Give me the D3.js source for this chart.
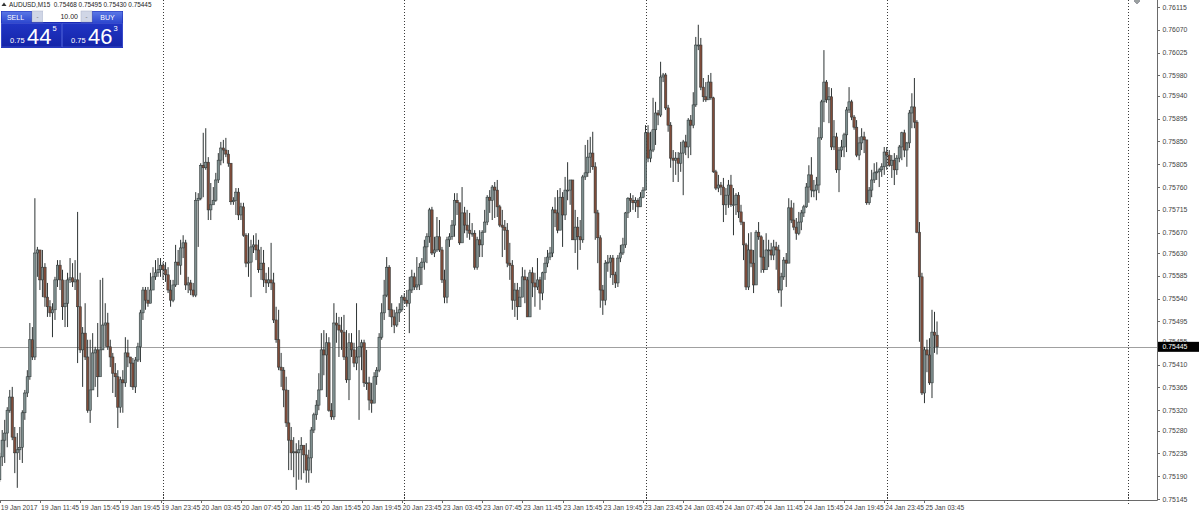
<!DOCTYPE html>
<html><head><meta charset="utf-8">
<script src="https://cdn.jsdelivr.net/npm/d3@7"></script>
<style>
body{margin:0;background:#fff;overflow:hidden}
svg{display:block}
text{font-family:"Liberation Sans",Arial,sans-serif}
</style>
</head><body>
<svg id="c" width="1200" height="515"></svg>
<script>
// ---- data (AUDUSD M15) ----
const symbol = "AUDUSD,M15";
const firstBarTime = "2017-01-19 07:45";
const lotSize = "10.00";
const bidPrice = 0.75445;
const askPrice = 0.75463;

const open = [
0.75183,0.75228,0.75261,0.75275,0.75320,0.75346,0.75267,0.75236,0.75242,0.75247,
0.75315,0.75354,0.75386,0.75459,0.75425,0.75630,0.75636,0.75577,0.75602,0.75543,
0.75524,0.75512,0.75518,0.75577,0.75606,0.75577,0.75524,0.75531,0.75577,0.75581,
0.75573,0.75577,0.75524,0.75439,0.75472,0.75425,0.75320,0.75360,0.75433,0.75439,
0.75386,0.75439,0.75488,0.75492,0.75445,0.75425,0.75393,0.75386,0.75326,0.75380,
0.75374,0.75433,0.75425,0.75413,0.75366,0.75419,0.75445,0.75512,0.75557,0.75537,
0.75531,0.75557,0.75583,0.75591,
0.75597,0.75606,0.75597,0.75587,0.75557,0.75537,0.75567,0.75612,0.75606,0.75640,
0.75650,0.75567,0.75571,0.75557,0.75547,0.75734,0.75738,0.75803,0.75798,0.75809,
0.75715,0.75725,0.75734,0.75774,0.75813,0.75837,0.75833,0.75825,0.75807,0.75731,
0.75734,0.75750,0.75705,0.75721,0.75665,0.75610,0.75612,0.75642,0.75646,0.75636,
0.75597,0.75610,0.75577,0.75571,0.75577,0.75571,0.75498,0.75459,0.75405,0.75399,
0.75360,0.75295,0.75261,0.75236,0.75238,0.75236,0.75242,0.75251,0.75232,0.75202,
0.75226,0.75281,0.75311,0.75330,
0.75360,0.75439,0.75429,0.75453,0.75320,0.75307,0.75492,0.75488,0.75478,0.75474,
0.75425,0.75380,0.75453,0.75439,0.75413,0.75425,0.75445,0.75453,0.75374,0.75374,
0.75340,0.75334,0.75386,0.75399,0.75464,0.75512,0.75547,0.75602,0.75518,0.75504,
0.75488,0.75512,0.75518,0.75543,0.75537,0.75531,0.75557,0.75583,0.75563,0.75567,
0.75602,0.75612,0.75642,0.75662,0.75715,0.75630,0.75636,0.75662,0.75636,0.75577,
0.75543,0.75656,0.75662,0.75685,0.75734,0.75729,
0.75650,0.75709,0.75685,0.75675,0.75669,0.75669,0.75602,0.75656,0.75646,0.75671,
0.75691,0.75740,0.75734,0.75760,0.75754,0.75721,0.75685,0.75681,0.75675,0.75610,
0.75606,0.75537,0.75557,0.75524,0.75543,0.75583,0.75577,0.75504,0.75591,0.75571,
0.75563,0.75577,0.75551,0.75591,0.75610,0.75622,0.75630,0.75715,0.75709,0.75675,
0.75740,0.75705,0.75754,0.75754,0.75774,0.75656,0.75681,0.75662,0.75656,0.75780,
0.75788,0.75819,0.75827,0.75800,0.75709,0.75660,
0.75557,0.75537,0.75610,0.75612,0.75620,0.75587,0.75571,0.75620,0.75630,0.75646,
0.75709,0.75738,0.75734,0.75729,0.75734,0.75721,0.75740,0.75754,0.75867,0.75817,
0.75833,0.75873,0.75906,0.75902,0.75977,0.75981,0.75916,0.75882,0.75817,0.75813,
0.75817,0.75807,0.75827,0.75849,0.75839,0.75892,0.75882,0.75922,0.76040,0.76040,
0.75957,0.75938,0.75932,0.75967,0.75936,0.75790,0.75758,0.75764,0.75760,0.75725,
0.75744,0.75764,0.75725,0.75725,0.75744,0.75711,
0.75691,0.75646,0.75563,0.75636,0.75610,0.75567,0.75671,0.75662,0.75622,0.75597,
0.75636,0.75636,0.75626,0.75642,0.75636,0.75557,0.75583,0.75616,0.75610,0.75719,
0.75695,0.75681,0.75669,0.75691,0.75709,0.75721,0.75760,0.75784,0.75754,0.75754,
0.75764,0.75857,0.75928,0.75967,0.75932,0.75938,0.75839,0.75859,0.75794,0.75833,
0.75839,0.75863,0.75912,0.75928,0.75898,0.75878,0.75823,0.75847,0.75859,0.75853,
0.75729,0.75754,0.75774,0.75788,0.75790,0.75794,0.75800,0.75829,0.75823,0.75803,
0.75813,0.75794,0.75817,0.75839,0.75867,0.75833,0.75847,0.75906,0.75918,0.75888,
0.75671,0.75583,0.75354,0.75439,0.75429,0.75374,0.75474,0.75468
];
const high = [
0.75236,0.75281,0.75301,0.75326,0.75360,0.75366,0.75287,0.75275,0.75287,0.75320,
0.75360,0.75399,0.75492,0.75484,0.75738,0.75642,0.75630,0.75636,0.75610,0.75571,
0.75537,0.75531,0.75583,0.75616,0.75616,0.75597,0.75577,0.75591,0.75620,0.75610,
0.75616,0.75711,0.75591,0.75484,0.75531,0.75459,0.75459,0.75472,0.75445,0.75492,
0.75577,0.75581,0.75531,0.75512,0.75459,0.75433,0.75413,0.75399,0.75386,0.75399,
0.75464,0.75459,0.75425,0.75423,0.75425,0.75453,0.75518,0.75563,0.75563,0.75563,
0.75591,0.75602,0.75616,0.75620,
0.75620,0.75612,0.75612,0.75602,0.75577,0.75577,0.75646,0.75636,0.75656,0.75665,
0.75656,0.75583,0.75577,0.75571,0.75750,0.75748,0.75807,0.75867,0.75876,0.75819,
0.75768,0.75760,0.75788,0.75827,0.75849,0.75853,0.75857,0.75833,0.75807,0.75740,
0.75758,0.75758,0.75729,0.75729,0.75669,0.75669,0.75656,0.75665,0.75669,0.75656,
0.75642,0.75636,0.75591,0.75602,0.75650,0.75591,0.75524,0.75518,0.75433,0.75405,
0.75386,0.75360,0.75287,0.75267,0.75255,0.75261,0.75267,0.75242,0.75255,0.75242,
0.75287,0.75315,0.75340,0.75393,
0.75472,0.75478,0.75472,0.75464,0.75334,0.75531,0.75512,0.75504,0.75504,0.75508,
0.75478,0.75472,0.75472,0.75453,0.75531,0.75478,0.75459,0.75459,0.75439,0.75386,
0.75374,0.75395,0.75405,0.75472,0.75531,0.75577,0.75622,0.75606,0.75531,0.75518,
0.75524,0.75531,0.75547,0.75551,0.75557,0.75583,0.75597,0.75591,0.75622,0.75610,
0.75620,0.75656,0.75669,0.75719,0.75721,0.75662,0.75701,0.75695,0.75642,0.75597,
0.75662,0.75669,0.75695,0.75748,0.75748,0.75715,
0.75760,0.75721,0.75715,0.75709,0.75689,0.75675,0.75662,0.75675,0.75675,0.75715,
0.75744,0.75754,0.75764,0.75770,0.75774,0.75725,0.75715,0.75695,0.75689,0.75650,
0.75616,0.75571,0.75571,0.75563,0.75602,0.75597,0.75583,0.75597,0.75602,0.75591,
0.75620,0.75583,0.75593,0.75622,0.75636,0.75642,0.75721,0.75740,0.75754,0.75758,
0.75750,0.75780,0.75809,0.75774,0.75740,0.75715,0.75701,0.75695,0.75784,0.75843,
0.75853,0.75859,0.75869,0.75809,0.75715,0.75665,
0.75567,0.75616,0.75626,0.75626,0.75626,0.75593,0.75626,0.75646,0.75660,0.75711,
0.75740,0.75748,0.75744,0.75740,0.75738,0.75750,0.75760,0.75882,0.75882,0.75869,
0.75936,0.75928,0.75912,0.76007,0.75985,0.75985,0.75922,0.75888,0.75833,0.75829,
0.75829,0.75849,0.75853,0.75863,0.75896,0.75902,0.75947,0.76056,0.76080,0.76054,
0.75975,0.75967,0.75981,0.75985,0.75938,0.75794,0.75784,0.75770,0.75778,0.75758,
0.75774,0.75784,0.75758,0.75748,0.75750,0.75725,
0.75679,0.75650,0.75669,0.75671,0.75636,0.75675,0.75691,0.75665,0.75656,0.75669,
0.75656,0.75650,0.75656,0.75652,0.75646,0.75591,0.75622,0.75630,0.75738,0.75734,
0.75729,0.75699,0.75711,0.75715,0.75725,0.75768,0.75803,0.75819,0.75774,0.75780,
0.75878,0.75932,0.76030,0.75971,0.75957,0.75955,0.75892,0.75867,0.75839,0.75853,
0.75867,0.75918,0.75957,0.75932,0.75902,0.75892,0.75859,0.75876,0.75869,0.75843,
0.75760,0.75794,0.75807,0.75809,0.75798,0.75807,0.75839,0.75839,0.75833,0.75823,
0.75827,0.75823,0.75843,0.75869,0.75873,0.75849,0.75912,0.75945,0.75975,0.75892,
0.75691,0.75591,0.75445,0.75459,0.75462,0.75518,0.75514,0.75495
];
const low = [
0.75179,0.75210,0.75216,0.75247,0.75315,0.75261,0.75196,0.75167,0.75222,0.75216,
0.75301,0.75346,0.75380,0.75419,0.75419,0.75583,0.75557,0.75543,0.75524,0.75504,
0.75504,0.75464,0.75498,0.75563,0.75557,0.75498,0.75484,0.75484,0.75571,0.75563,
0.75557,0.75413,0.75433,0.75366,0.75419,0.75315,0.75295,0.75360,0.75366,0.75346,
0.75433,0.75439,0.75445,0.75439,0.75405,0.75354,0.75346,0.75285,0.75315,0.75315,
0.75366,0.75405,0.75366,0.75360,0.75354,0.75415,0.75415,0.75498,0.75518,0.75524,
0.75531,0.75571,0.75577,0.75583,
0.75583,0.75577,0.75573,0.75551,0.75524,0.75533,0.75563,0.75567,0.75587,0.75620,
0.75557,0.75551,0.75547,0.75543,0.75543,0.75642,0.75734,0.75740,0.75794,0.75695,
0.75695,0.75729,0.75731,0.75768,0.75803,0.75807,0.75819,0.75800,0.75725,0.75725,
0.75705,0.75695,0.75695,0.75662,0.75602,0.75583,0.75543,0.75630,0.75616,0.75591,
0.75577,0.75563,0.75551,0.75563,0.75557,0.75492,0.75453,0.75399,0.75366,0.75326,
0.75287,0.75202,0.75202,0.75188,0.75163,0.75183,0.75183,0.75196,0.75177,0.75177,
0.75196,0.75275,0.75301,0.75320,
0.75374,0.75389,0.75346,0.75317,0.75301,0.75301,0.75453,0.75425,0.75439,0.75419,
0.75374,0.75340,0.75425,0.75405,0.75399,0.75301,0.75399,0.75366,0.75360,0.75320,
0.75315,0.75340,0.75370,0.75395,0.75459,0.75498,0.75543,0.75504,0.75484,0.75472,
0.75484,0.75494,0.75514,0.75531,0.75524,0.75472,0.75551,0.75557,0.75557,0.75557,
0.75567,0.75597,0.75610,0.75650,0.75626,0.75622,0.75632,0.75632,0.75571,0.75531,
0.75531,0.75642,0.75656,0.75662,0.75705,0.75646,
0.75701,0.75669,0.75660,0.75656,0.75662,0.75597,0.75597,0.75622,0.75622,0.75671,
0.75685,0.75709,0.75695,0.75699,0.75701,0.75681,0.75622,0.75636,0.75602,0.75577,
0.75518,0.75504,0.75498,0.75524,0.75543,0.75531,0.75504,0.75504,0.75543,0.75524,
0.75557,0.75518,0.75537,0.75577,0.75602,0.75616,0.75622,0.75681,0.75669,0.75695,
0.75642,0.75695,0.75734,0.75725,0.75656,0.75630,0.75597,0.75636,0.75650,0.75774,
0.75780,0.75788,0.75794,0.75656,0.75610,0.75522,
0.75508,0.75527,0.75593,0.75581,0.75567,0.75561,0.75563,0.75612,0.75626,0.75640,
0.75699,0.75711,0.75715,0.75711,0.75699,0.75721,0.75738,0.75754,0.75809,0.75809,
0.75829,0.75843,0.75882,0.75898,0.75967,0.75912,0.75869,0.75798,0.75770,0.75784,
0.75770,0.75790,0.75744,0.75823,0.75817,0.75823,0.75876,0.75918,0.76030,0.75951,
0.75928,0.75928,0.75938,0.75932,0.75788,0.75754,0.75750,0.75744,0.75691,0.75705,
0.75719,0.75721,0.75665,0.75705,0.75699,0.75685,
0.75616,0.75557,0.75557,0.75602,0.75551,0.75610,0.75656,0.75591,0.75591,0.75610,
0.75602,0.75616,0.75616,0.75597,0.75551,0.75524,0.75577,0.75563,0.75612,0.75689,
0.75675,0.75656,0.75665,0.75675,0.75701,0.75719,0.75729,0.75740,0.75740,0.75734,
0.75748,0.75853,0.75888,0.75926,0.75886,0.75833,0.75833,0.75788,0.75750,0.75819,
0.75819,0.75829,0.75906,0.75892,0.75873,0.75819,0.75813,0.75833,0.75827,0.75725,
0.75725,0.75740,0.75768,0.75774,0.75760,0.75780,0.75784,0.75794,0.75800,0.75778,
0.75764,0.75784,0.75809,0.75813,0.75819,0.75800,0.75837,0.75876,0.75876,0.75669,
0.75455,0.75350,0.75334,0.75395,0.75370,0.75344,0.75433,0.75430
];
const close = [
0.75228,0.75261,0.75275,0.75320,0.75346,0.75267,0.75236,0.75242,0.75247,0.75315,
0.75354,0.75386,0.75459,0.75425,0.75630,0.75636,0.75577,0.75602,0.75543,0.75524,
0.75512,0.75518,0.75577,0.75606,0.75577,0.75524,0.75531,0.75577,0.75581,0.75573,
0.75577,0.75524,0.75439,0.75472,0.75425,0.75320,0.75360,0.75433,0.75439,0.75386,
0.75439,0.75488,0.75492,0.75445,0.75425,0.75393,0.75386,0.75326,0.75380,0.75374,
0.75433,0.75425,0.75413,0.75366,0.75419,0.75445,0.75512,0.75557,0.75537,0.75531,
0.75557,0.75583,0.75591,0.75597,
0.75606,0.75597,0.75587,0.75557,0.75537,0.75567,0.75612,0.75606,0.75640,0.75650,
0.75567,0.75571,0.75557,0.75547,0.75734,0.75738,0.75803,0.75798,0.75809,0.75715,
0.75725,0.75734,0.75774,0.75813,0.75837,0.75833,0.75825,0.75807,0.75731,0.75734,
0.75750,0.75705,0.75721,0.75665,0.75610,0.75612,0.75642,0.75646,0.75636,0.75597,
0.75610,0.75577,0.75571,0.75577,0.75571,0.75498,0.75459,0.75405,0.75399,0.75360,
0.75295,0.75261,0.75236,0.75238,0.75236,0.75242,0.75251,0.75232,0.75202,0.75226,
0.75281,0.75311,0.75330,0.75360,
0.75439,0.75429,0.75453,0.75320,0.75307,0.75492,0.75488,0.75478,0.75474,0.75425,
0.75380,0.75453,0.75439,0.75413,0.75425,0.75445,0.75453,0.75374,0.75374,0.75340,
0.75334,0.75386,0.75399,0.75464,0.75512,0.75547,0.75602,0.75518,0.75504,0.75488,
0.75512,0.75518,0.75543,0.75537,0.75531,0.75557,0.75583,0.75563,0.75567,0.75602,
0.75612,0.75642,0.75662,0.75715,0.75630,0.75636,0.75662,0.75636,0.75577,0.75543,
0.75656,0.75662,0.75685,0.75734,0.75729,0.75650,
0.75709,0.75685,0.75675,0.75669,0.75669,0.75602,0.75656,0.75646,0.75671,0.75691,
0.75740,0.75734,0.75760,0.75754,0.75721,0.75685,0.75681,0.75675,0.75610,0.75606,
0.75537,0.75557,0.75524,0.75543,0.75583,0.75577,0.75504,0.75591,0.75571,0.75563,
0.75577,0.75551,0.75591,0.75610,0.75622,0.75630,0.75715,0.75709,0.75675,0.75740,
0.75705,0.75754,0.75754,0.75774,0.75656,0.75681,0.75662,0.75656,0.75780,0.75788,
0.75819,0.75827,0.75800,0.75709,0.75660,0.75557,
0.75537,0.75610,0.75612,0.75620,0.75587,0.75571,0.75620,0.75630,0.75646,0.75709,
0.75738,0.75734,0.75729,0.75734,0.75721,0.75740,0.75754,0.75867,0.75817,0.75833,
0.75873,0.75906,0.75902,0.75977,0.75981,0.75916,0.75882,0.75817,0.75813,0.75817,
0.75807,0.75827,0.75849,0.75839,0.75892,0.75882,0.75922,0.76040,0.76040,0.75957,
0.75938,0.75932,0.75967,0.75936,0.75790,0.75758,0.75764,0.75760,0.75725,0.75744,
0.75764,0.75725,0.75725,0.75744,0.75711,0.75691,
0.75646,0.75563,0.75636,0.75610,0.75567,0.75671,0.75662,0.75622,0.75597,0.75636,
0.75636,0.75626,0.75642,0.75636,0.75557,0.75583,0.75616,0.75610,0.75719,0.75695,
0.75681,0.75669,0.75691,0.75709,0.75721,0.75760,0.75784,0.75754,0.75754,0.75764,
0.75857,0.75928,0.75967,0.75932,0.75938,0.75839,0.75859,0.75794,0.75833,0.75839,
0.75863,0.75912,0.75928,0.75898,0.75878,0.75823,0.75847,0.75859,0.75853,0.75729,
0.75754,0.75774,0.75788,0.75790,0.75794,0.75800,0.75829,0.75823,0.75803,0.75813,
0.75794,0.75817,0.75839,0.75867,0.75833,0.75847,0.75906,0.75918,0.75888,0.75671,
0.75583,0.75354,0.75439,0.75429,0.75374,0.75474,0.75468,0.75445
];

const priceTicks = [0.76115,0.76070,0.76025,0.75980,0.75940,0.75895,0.75850,0.75805,
  0.75760,0.75715,0.75670,0.75630,0.75585,0.75540,0.75495,0.75455,0.75410,0.75365,
  0.75320,0.75280,0.75235,0.75190,0.75145];
const timeTickLabels = ["19 Jan 2017","19 Jan 11:45","19 Jan 15:45","19 Jan 19:45","19 Jan 23:45",
  "20 Jan 03:45","20 Jan 07:45","20 Jan 11:45","20 Jan 15:45","20 Jan 19:45","20 Jan 23:45",
  "23 Jan 03:45","23 Jan 07:45","23 Jan 11:45","23 Jan 15:45","23 Jan 19:45","23 Jan 23:45",
  "24 Jan 03:45","24 Jan 07:45","24 Jan 11:45","24 Jan 15:45","24 Jan 19:45","24 Jan 23:45",
  "25 Jan 03:45"];

// ---- build bar times (15 min bars, weekend skipped) ----
const parseT = d3.timeParse("%Y-%m-%d %H:%M");
const fmtT = d3.timeFormat("%d %b %H:%M");
const nSlots = 462;
const times = [];
let t = parseT(firstBarTime);
while (times.length < nSlots) {
  const wd = t.getDay();
  if (wd !== 0 && wd !== 6) times.push(t);
  t = d3.timeMinute.offset(t, 15);
}
const bars = close.map((c, i) => ({i, o: open[i], h: high[i], l: low[i], c}));

// ---- layout ----
const svg = d3.select("#c");
const axisX = 1157, axisY = 500;
const x = d3.scaleLinear().domain([0, 449]).range([-0.3, 1128]);
const y = d3.scaleLinear().domain([0.75145, 0.76115]).range([499, 7]);

svg.append("rect").attr("width", 1200).attr("height", 515).attr("fill", "#fff");
svg.append("clipPath").attr("id", "plot").append("rect")
  .attr("x", 0).attr("y", 0).attr("width", axisX).attr("height", axisY);
const plot = svg.append("g").attr("clip-path", "url(#plot)");

// day separators
const dayStarts = times.map((d, i) => ({d, i}))
  .filter(o => o.d.getHours() === 0 && o.d.getMinutes() === 0);
plot.selectAll("line.sep").data(dayStarts).join("line")
  .attr("x1", o => Math.round(x(o.i)) + 0.5).attr("x2", o => Math.round(x(o.i)) + 0.5)
  .attr("y1", 0).attr("y2", axisY)
  .attr("stroke", "#3a3a3a").attr("stroke-width", 1).attr("stroke-dasharray", "1,2");

// bid line
plot.append("line").attr("x1", 0).attr("x2", axisX)
  .attr("y1", Math.round(y(bidPrice)) + 0.5).attr("y2", Math.round(y(bidPrice)) + 0.5)
  .attr("stroke", "#a0a0a0").attr("stroke-width", 1);

// candles
const cg = plot.append("g");
cg.selectAll("line.wick").data(bars).join("line")
  .attr("x1", d => x(d.i)).attr("x2", d => x(d.i))
  .attr("y1", d => y(d.h)).attr("y2", d => y(d.l))
  .attr("stroke", "#2e3434").attr("stroke-width", 1);
cg.selectAll("rect.body").data(bars).join("rect")
  .attr("x", d => x(d.i) - 1.2).attr("width", 2.4)
  .attr("y", d => Math.min(y(d.o), y(d.c)))
  .attr("height", d => Math.max(0.9, Math.abs(y(d.o) - y(d.c))))
  .attr("fill", d => d.c >= d.o ? "#7e8e8e" : "#7f4c3a")
  .attr("stroke", "#2e3636").attr("stroke-width", 0.55);

// axes lines
svg.append("line").attr("x1", axisX + 0.5).attr("x2", axisX + 0.5).attr("y1", 0).attr("y2", axisY + 0.5)
  .attr("stroke", "#6a6a6a");
svg.append("line").attr("x1", 0).attr("x2", axisX + 0.5).attr("y1", axisY + 0.5).attr("y2", axisY + 0.5)
  .attr("stroke", "#6a6a6a");

// price axis
const pa = svg.append("g");
pa.selectAll("line").data(priceTicks).join("line")
  .attr("x1", axisX).attr("x2", axisX + 3)
  .attr("y1", v => Math.round(y(v)) + 0.5).attr("y2", v => Math.round(y(v)) + 0.5)
  .attr("stroke", "#6a6a6a");
pa.selectAll("text").data(priceTicks).join("text")
  .attr("x", axisX + 5.5).attr("y", v => y(v) + 2.5)
  .attr("font-size", 6.9).attr("fill", "#444")
  .text(v => v.toFixed(5));

// bid label box
svg.append("rect").attr("x", axisX + 1).attr("y", y(bidPrice) - 5).attr("width", 41).attr("height", 10)
  .attr("fill", "#000");
svg.append("text").attr("x", axisX + 5.5).attr("y", y(bidPrice) + 2.5)
  .attr("font-size", 6.9).attr("fill", "#fff").text(bidPrice.toFixed(5));

// time axis
const ta = svg.append("g");
const tickIdx = timeTickLabels.map((lab, k) => {
  if (k === 0) return 0;
  return times.findIndex(d => fmtT(d) === lab);
});
ta.selectAll("line").data(tickIdx).join("line")
  .attr("x1", i => Math.round(x(i)) + 0.5).attr("x2", i => Math.round(x(i)) + 0.5)
  .attr("y1", axisY).attr("y2", axisY + 3).attr("stroke", "#6a6a6a");
ta.selectAll("text").data(timeTickLabels).join("text")
  .attr("x", (d, k) => x(tickIdx[k]) + 1).attr("y", 510)
  .attr("font-size", 6.7).attr("fill", "#444").text(d => d);
ta.selectAll("line.ds").data(dayStarts).join("line")
  .attr("x1", o => Math.round(x(o.i)) + 0.5).attr("x2", o => Math.round(x(o.i)) + 0.5)
  .attr("y1", axisY - 6).attr("y2", axisY + 4)
  .attr("stroke", "#3a3a3a").attr("stroke-dasharray", "1,2");

// chart shift marker
svg.append("path").attr("d", "M1137,-2 L1140,1 L1137,4 L1134,1 Z")
  .attr("fill", "#9aa0a0").attr("stroke", "#667").attr("stroke-width", 0.5);

// header
const last = bars[bars.length - 1];
svg.append("path").attr("d", "M1.5,6 L4,2.5 L6.5,6 Z").attr("fill", "#333");
svg.append("text").attr("x", 9).attr("y", 6.8).attr("font-size", 6.4).attr("fill", "#222")
  .attr("xml:space", "preserve")
  .text(`${symbol}  ${last.o.toFixed(5)} ${last.h.toFixed(5)} ${last.l.toFixed(5)} ${last.c.toFixed(5)}`);

// one-click trading panel
const defs = svg.append("defs");
const g1 = defs.append("linearGradient").attr("id", "btn").attr("x1", 0).attr("x2", 0).attr("y1", 0).attr("y2", 1);
g1.append("stop").attr("offset", 0).attr("stop-color", "#5b78e6");
g1.append("stop").attr("offset", 1).attr("stop-color", "#2d47cf");
const g2 = defs.append("linearGradient").attr("id", "box").attr("x1", 0).attr("x2", 0).attr("y1", 0).attr("y2", 1);
g2.append("stop").attr("offset", 0).attr("stop-color", "#2035c4");
g2.append("stop").attr("offset", 1).attr("stop-color", "#1424a8");

const panel = svg.append("g");
panel.append("rect").attr("x", 1).attr("y", 11).attr("width", 122).attr("height", 37).attr("fill", "#1a2ab3");
panel.append("rect").attr("x", 1.5).attr("y", 11.5).attr("width", 30).attr("height", 11.5).attr("fill", "url(#btn)");
panel.append("rect").attr("x", 92.5).attr("y", 11.5).attr("width", 30).attr("height", 11.5).attr("fill", "url(#btn)");
panel.append("rect").attr("x", 32).attr("y", 11).attr("width", 11).attr("height", 11).attr("fill", "#d0d6e6").attr("stroke", "#a8b0c8").attr("stroke-width", 0.5);
panel.append("rect").attr("x", 43).attr("y", 11).attr("width", 38).attr("height", 11).attr("fill", "#fff");
panel.append("rect").attr("x", 81).attr("y", 11).attr("width", 11).attr("height", 11).attr("fill", "#d0d6e6").attr("stroke", "#a8b0c8").attr("stroke-width", 0.5);
panel.append("text").attr("x", 37.5).attr("y", 18.5).attr("text-anchor", "middle").attr("font-size", 6).attr("fill", "#555").text("-");
panel.append("text").attr("x", 86.5).attr("y", 18.5).attr("text-anchor", "middle").attr("font-size", 6).attr("fill", "#555").text("-");
panel.append("text").attr("x", 78).attr("y", 19).attr("text-anchor", "end").attr("font-size", 7).attr("fill", "#222").text(lotSize);
panel.append("text").attr("x", 15.5).attr("y", 19.5).attr("text-anchor", "middle").attr("font-size", 7).attr("fill", "#fff").text("SELL");
panel.append("text").attr("x", 107.5).attr("y", 19.5).attr("text-anchor", "middle").attr("font-size", 7).attr("fill", "#fff").text("BUY");
panel.append("rect").attr("x", 1.5).attr("y", 23.5).attr("width", 60).attr("height", 23.5).attr("fill", "url(#box)").attr("stroke", "#4a5ed8").attr("stroke-width", 0.6);
panel.append("rect").attr("x", 62.5).attr("y", 23.5).attr("width", 60).attr("height", 23.5).attr("fill", "url(#box)").attr("stroke", "#4a5ed8").attr("stroke-width", 0.6);
function quote(x0, p) {
  const s = p.toFixed(5);
  panel.append("text").attr("x", x0 + 9).attr("y", 43).attr("font-size", 7.5).attr("fill", "#fff").text(s.slice(0, 4));
  panel.append("text").attr("x", x0 + 26).attr("y", 44).attr("font-size", 22).attr("fill", "#fff").text(s.slice(4, 6));
  panel.append("text").attr("x", x0 + 51.5).attr("y", 31).attr("font-size", 7.5).attr("fill", "#fff").text(s.slice(6));
}
quote(1, bidPrice);
quote(62, askPrice);
</script>
</body></html>
